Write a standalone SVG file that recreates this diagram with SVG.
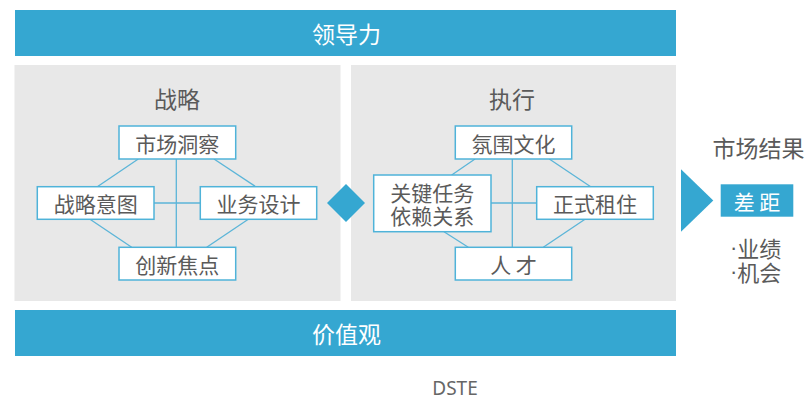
<svg xmlns="http://www.w3.org/2000/svg" width="809" height="402" viewBox="0 0 809 402">
<style>
.banner{fill:#35a7d1}
.bt{fill:#ffffff;font-family:"Noto Sans CJK SC","Noto Sans",sans-serif;font-size:23px;text-anchor:middle;dominant-baseline:central}
.panel{fill:#e8e8e8}
.title{fill:#5a5a5a;font-family:"Noto Sans CJK SC","Noto Sans",sans-serif;font-size:23px;text-anchor:middle;dominant-baseline:central}
.box{fill:#ffffff;stroke:#4fb3d9;stroke-width:1.5}
.t{fill:#5a5a5a;font-family:"Noto Sans CJK SC","Noto Sans",sans-serif;font-size:21px;text-anchor:middle;dominant-baseline:central}
.c line{stroke:#5bb5d8;stroke-width:1.3}
.acc{fill:#35a7d1}
.dot{font-family:"Liberation Sans",sans-serif}
</style>
<rect width="809" height="402" fill="#ffffff"/>
<g id="leadership"><rect class="banner" x="15" y="10" width="661" height="46"/><text class="bt" x="346.5" y="33">领导力</text></g>
<g id="values"><rect class="banner" x="15" y="310" width="661" height="46"/><text class="bt" x="346.5" y="333">价值观</text></g>
<g id="strategy-panel"><rect class="panel" x="14.5" y="65" width="326" height="236"/><text class="title" x="177" y="98">战略</text></g>
<g id="execution-panel"><rect class="panel" x="351" y="65" width="325" height="236"/><text class="title" x="512" y="98">执行</text></g>
<g class="c" id="connectors">
<line x1="176.3" y1="159" x2="176.3" y2="247.3"/>
<line x1="154" y1="203" x2="200.3" y2="203"/>
<line x1="138.3" y1="159" x2="97.3" y2="186.7"/>
<line x1="214" y1="159" x2="255.7" y2="186.7"/>
<line x1="90" y1="219.3" x2="131.7" y2="247.3"/>
<line x1="248.3" y1="219.3" x2="206.7" y2="247.3"/>
<line x1="512.3" y1="159" x2="512.3" y2="247.3"/>
<line x1="491" y1="203" x2="536.7" y2="203"/>
<line x1="475" y1="159" x2="451.7" y2="175"/>
<line x1="549.3" y1="159" x2="590.7" y2="186.7"/>
<line x1="444" y1="231.7" x2="468.3" y2="247.3"/>
<line x1="585" y1="219.3" x2="543.3" y2="247.3"/>
</g>
<g id="market-insight"><rect class="box" x="119" y="126" width="116.7" height="33"/><text class="t" x="177.3" y="142.5">市场洞察</text></g>
<g id="strategic-intent"><rect class="box" x="37.3" y="186.7" width="116.7" height="32.6"/><text class="t" x="95.7" y="203">战略意图</text></g>
<g id="business-design"><rect class="box" x="200.3" y="186.7" width="116.4" height="32.6"/><text class="t" x="258.5" y="203">业务设计</text></g>
<g id="innovation-focus"><rect class="box" x="119" y="247.3" width="116.7" height="32.7"/><text class="t" x="177.3" y="263.7">创新焦点</text></g>
<g id="climate-culture"><rect class="box" x="455.3" y="126" width="116.4" height="33"/><text class="t" x="513.5" y="142.5">氛围文化</text></g>
<g id="critical-tasks"><rect class="box" x="373.7" y="175" width="117.3" height="56.7"/><text class="t" x="432.3" y="191.5">关键任务</text><text class="t" x="432.3" y="215">依赖关系</text></g>
<g id="formal-org"><rect class="box" x="536.7" y="186.7" width="116.6" height="32.6"/><text class="t" x="595" y="203">正式租住</text></g>
<g id="talent"><rect class="box" x="455.3" y="247.3" width="116.4" height="32.7"/><text class="t" x="513.5" y="263.7">人 才</text></g>
<g id="diamond"><polygon class="acc" points="346,184 365,203 346,222 327,203"/></g>
<g id="market-results">
<text class="title" x="758.5" y="147">市场结果</text>
<polygon class="acc" points="681,169.3 713.3,200.5 681,231.7"/>
<rect class="acc" x="720.7" y="184.3" width="72.6" height="32.4"/>
<text class="bt" x="757" y="200.5" style="font-size:21px">差 距</text>
<text class="title" x="730" y="247" style="text-anchor:start;font-size:22px"><tspan class="dot">·</tspan>业绩</text>
<text class="title" x="730" y="270.5" style="text-anchor:start;font-size:22px"><tspan class="dot">·</tspan>机会</text>
</g>
<text x="455" y="388" style="fill:#666666;font-family:'Noto Sans','DejaVu Sans',sans-serif;font-size:19px;text-anchor:middle;dominant-baseline:central">DSTE</text>
</svg>
